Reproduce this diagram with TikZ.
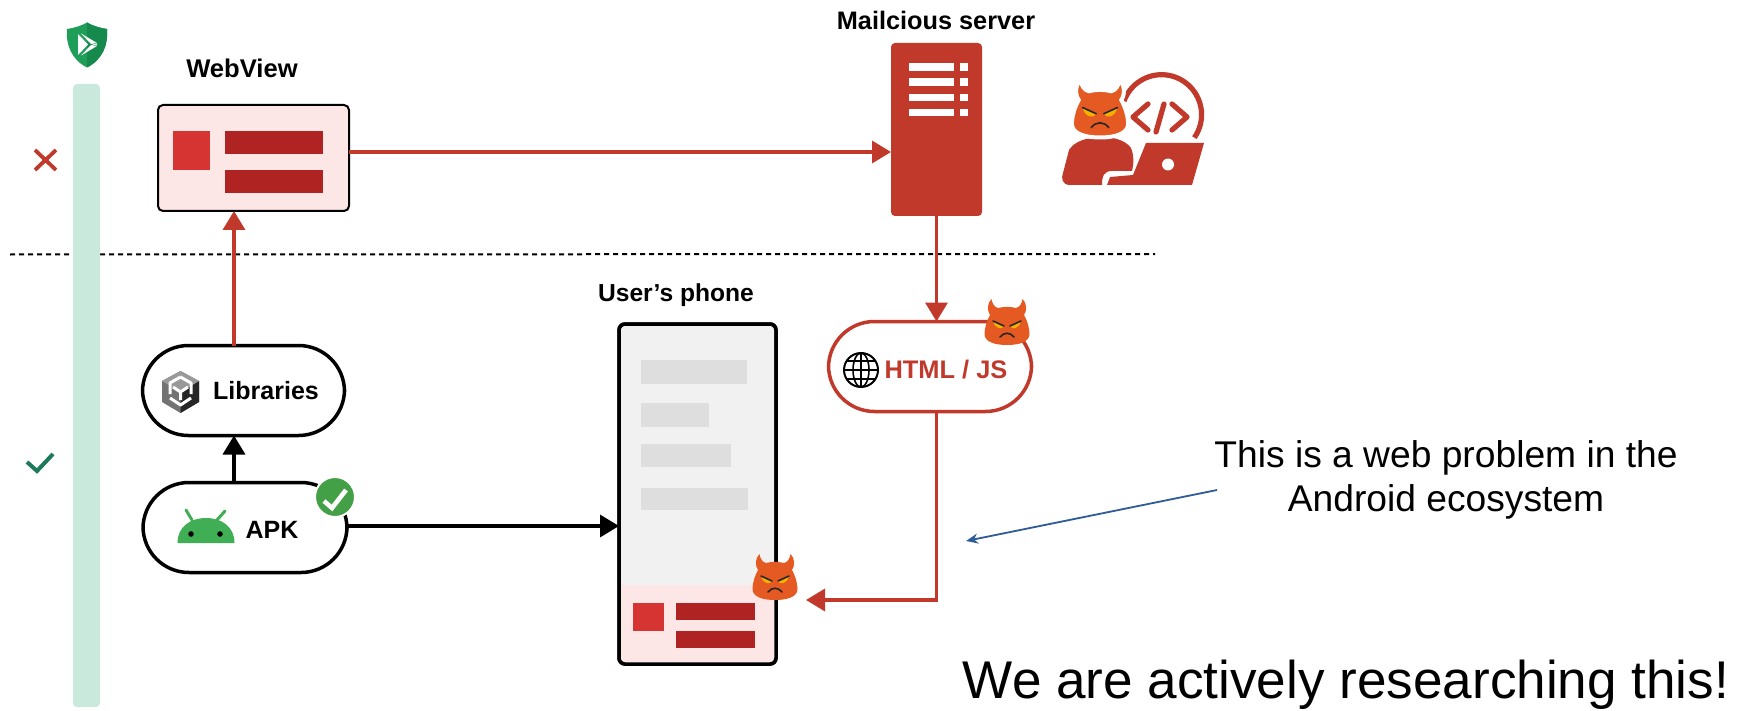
\documentclass[tikz,border=0pt]{standalone}
\usepackage{fontspec}
\setmainfont{Liberation Sans}
\usetikzlibrary{arrows.meta}
\definecolor{rd}{HTML}{C0392B}
\definecolor{dv}{HTML}{E55A22}
\definecolor{barred}{HTML}{B02323}
\definecolor{sqred}{HTML}{D63333}
\definecolor{pinkbg}{HTML}{FDE6E6}
\definecolor{mint}{HTML}{C9E9DD}
\definecolor{grayb}{HTML}{DEDEDE}
\definecolor{phonebg}{HTML}{F1F1F1}
\definecolor{shieldl}{HTML}{1E9E58}
\definecolor{shieldd}{HTML}{158A4C}
\definecolor{droid}{HTML}{3FAE55}
\definecolor{badge}{HTML}{43A047}
\definecolor{tick}{HTML}{1F7A5C}
\definecolor{eye}{HTML}{F5B000}
\definecolor{notearrow}{HTML}{2F5B96}
\tikzset{
  pill/.style={draw=black,line width=1.75pt,fill=white,rounded corners=23pt,minimum height=45pt,inner sep=0pt,outer sep=0pt},
  redline/.style={draw=rd,line width=1.75pt},
  redarrow/.style={redline,-{Triangle[length=9.5pt,width=11pt]}},
  blackarrow/.style={draw=black,line width=1.75pt,-{Triangle[length=9.5pt,width=11pt]}},
  lab/.style={font=\bfseries\fontsize{12.5}{15}\selectfont,inner sep=0pt},
  say/.style={font=\fontsize{18.6}{22}\selectfont,inner sep=0pt,align=center},
  devil/.pic={
    \path[pic actions,fill=dv] (-17,-8) .. controls (-20,-12) and (-20,-20) .. (-15.5,-24) .. controls (-15,-20) and (-13,-16) .. (-9,-15) .. controls (-3,-16.5) and (3,-16.5) .. (9,-15) .. controls (13,-16) and (15,-20) .. (15.5,-24) .. controls (20,-20) and (20,-12) .. (17,-8) .. controls (20,-3) and (22.5,5) .. (22.5,11) .. controls (22.5,19) and (12,22) .. (0,22) .. controls (-12,22) and (-22.5,19) .. (-22.5,11) .. controls (-22.5,5) and (-20,-3) .. (-17,-8) -- cycle;
    \fill[eye] (-14,-2) -- (-3,3) .. controls (-5,7) and (-12,6) .. (-14,-2) -- cycle;
    \fill[eye] (14,-2) -- (3,3) .. controls (5,7) and (12,6) .. (14,-2) -- cycle;
    \draw[black!85,line width=0.8pt,line cap=round] (-14,-2) -- (-3,3) (14,-2) -- (3,3);
    \draw[black!85,line width=0.8pt,line cap=round] (-7,14) .. controls (-3,9) and (3,9) .. (7,14);
  }
}
\begin{document}
\begin{tikzpicture}[x=0.5pt,y=-0.5pt]
\useasboundingbox[fill=white] (0,0) rectangle (1738,711);
% guide coordinates
\coordinate (axA) at (234,300);
\coordinate (axB) at (936.5,300);
\coordinate (ayA) at (500,526);
\coordinate (ayB) at (500,152);
\coordinate (phoneIn) at (806,600);
\coordinate (dotL) at (10,254.5);
\coordinate (dotR) at (1155,254);
\coordinate (noteFrom) at (1217,490);
\coordinate (noteTo) at (966,541);
\coordinate (cornerC) at (936.5,600);
% dotted
\draw[black,line width=1pt,dash pattern=on 2.5pt off 2pt] (dotL) -- (dotR);
% bar
\node[fill=mint,rounded corners=2pt,minimum width=13.5pt,minimum height=311.5pt,inner sep=0pt] (bar) at (86.5,395.5) {};
% shield
\fill[shieldl] (87,22.5) .. controls (93,26) and (100,28) .. (107,29) .. controls (108.5,45) and (102,60) .. (87,67.5) .. controls (72,60) and (65.5,45) .. (67,29) .. controls (74,28) and (81,26) .. (87,22.5) -- cycle;
\fill[shieldd] (87,22.5) .. controls (93,26) and (100,28) .. (107,29) .. controls (108.5,45) and (102,60) .. (87,67.5) -- cycle;
\fill[white] (78,34) -- (88,44.5) -- (78,55) -- cycle;
\fill[white] (81,33.5) -- (97,43) -- (91,44) -- cycle;
\fill[white] (81,55.5) -- (97,46) -- (91,45) -- cycle;
\fill[white] (92,44.5) -- (97,43.5) -- (97,45.5) -- cycle;
% marks
\draw[rd,line width=1.9pt] (35,150) -- (56,170) (56,150) -- (35,170);
\draw[tick,line width=2pt] (27,462) -- (37,471) -- (53,454);
% WebView
\node[draw=black,line width=1pt,fill=pinkbg,rounded corners=2.5pt,minimum width=95.5pt,minimum height=53pt,inner sep=0pt,outer sep=0pt] (web) at (253.5,158) {};
\fill[sqred] (173,131) rectangle (210,170);
\fill[barred] (225,131) rectangle (323,154);
\fill[barred] (225,170) rectangle (323,193);
\node[lab,font=\bfseries\fontsize{12.8}{15}\selectfont] (webl) at (242,68) {WebView};
% Server
\node[fill=rd,rounded corners=2pt,minimum width=45.5pt,minimum height=86.5pt,inner sep=0pt,outer sep=0pt] (srv) at (936.5,129.5) {};
\foreach \y in {63.5,78.5,94,109}{
  \fill[white] (909,\y) rectangle (954,\y+7.5);
  \fill[white] (960,\y) rectangle (968,\y+7.5);
}
\node[lab,font=\bfseries\fontsize{12.65}{15}\selectfont] (srvl) at (936,20) {Mailcious server};
% hacker
\fill[rd] (1069,150) .. controls (1078,134) and (1120,132) .. (1131,148) .. controls (1134,156) and (1134,162) .. (1132,171) -- (1112,171) .. controls (1104,171) and (1102,176) .. (1102,185) -- (1070,185) .. controls (1062,185) and (1061,178) .. (1063,173) -- cycle;
\fill[rd] (1146,143) -- (1204,143) -- (1192,185) -- (1107,185) -- (1110,177) -- (1133,175) -- cycle;
\fill[white] (1168,164.5) circle[radius=3pt];
\draw[rd,line width=2.6pt] (1124,101) arc[start angle=-160,end angle=35,radius=40];
\draw[rd,line width=2.6pt,line cap=round,line join=round] (1148,104) -- (1133,117) -- (1148,130) (1164,104) -- (1156,132) (1172,104) -- (1187,117) -- (1172,130);
\pic[scale=1.25,draw=white,line width=2pt] at (1100,110) {devil};
% Libraries
\node[pill,minimum width=101pt] (lib) at (243.5,390.5) {};
\node[lab] (libl) at (266,391) {Libraries};
\fill[black!55] (180.5,371) -- (199,381) -- (199,402) -- (180.5,413) -- (162,402) -- (162,381) -- cycle;
\fill[black!85] (180.5,392) -- (199,381) -- (199,402) -- (180.5,413) -- cycle;
\fill[black!40] (180.5,371) -- (199,381) -- (180.5,392) -- (162,381) -- cycle;
\draw[white,line width=1.5pt,line join=round] (180.5,377) -- (170,383) -- (170,394) (180.5,377) -- (191,383) -- (191,394) (170,398) -- (180.5,405) -- (191,398) (180.5,392) -- (180.5,400) (180.5,392) -- (173,387) (180.5,392) -- (188,387);
% APK
\node[pill,minimum width=102pt] (apk) at (245,527.5) {};
\node[lab] (apkl) at (272,530) {APK};
\draw[droid,line width=1.5pt,line cap=round] (192,520) -- (186,510) (217,520) -- (225,511);
\fill[droid] (177.5,543) .. controls (177.5,527) and (190,518) .. (206,518) .. controls (222,518) and (234.5,527) .. (234.5,543) -- cycle;
\fill[black] (191,534) circle[radius=1.4pt] (220,534) circle[radius=1.4pt];
\draw[white,line width=1pt,fill=badge] (335,497) circle[radius=10pt];
\draw[white,line width=2.3pt] (324,501) -- (332,508) -- (346,490);
% Phone
\node[draw=black,line width=1.75pt,fill=phonebg,rounded corners=3pt,minimum width=78.5pt,minimum height=170pt,inner sep=0pt,outer sep=0pt] (phone) at (697.5,494) {};
\begin{scope}
\clip[rounded corners=3pt] (619,324) rectangle (776,664);
\fill[pinkbg] (619,585) rectangle (776,664);
\end{scope}
\draw[black,line width=1.75pt,rounded corners=3pt] (619,324) rectangle (776,664);
\fill[grayb] (641,360) rectangle (747,384);
\fill[grayb] (641,403) rectangle (709,427);
\fill[grayb] (641,444) rectangle (731,467);
\fill[grayb] (641,488) rectangle (748,510);
\fill[sqred] (633,603) rectangle (664,631);
\fill[barred] (676,603) rectangle (755,620);
\fill[barred] (676,631) rectangle (755,648);
\node[lab,font=\bfseries\fontsize{12.3}{15}\selectfont] (phl) at (676,295) {User’s phone};
\pic at (775,578) {devil};
% HTML
\node[pill,draw=rd,minimum width=101.5pt] (html) at (930,366.5) {};
\draw[black,line width=1pt] (861,370) circle[radius=8.5pt];
\draw[black,line width=0.8pt] (861,370) ellipse[x radius=8,y radius=17];
\draw[black,line width=0.8pt] (844,370) -- (878,370) (846,361) -- (876,361) (846,379) -- (876,379) (861,353) -- (861,387);
\node[lab,text=rd,font=\bfseries\fontsize{12.7}{15}\selectfont] (htmll) at (946,370) {HTML / JS};
\pic at (1007,323) {devil};
% connectors
\draw[redarrow] (lib.north -| axA) -- (web.south -| axA);
\draw[blackarrow] (apk.north -| axA) -- (lib.south -| axA);
\draw[blackarrow] (apk.east |- ayA) -- (phone.west |- ayA);
\draw[redarrow] (web.east |- ayB) -- (srv.west |- ayB);
\draw[redarrow] (srv.south -| axB) -- (html.north -| axB);
\draw[redarrow] (html.south -| axB) -- (cornerC) -- (phoneIn);
% note
\node[say] (note) at (1446,479.5) {This is a web problem in the\\Android ecosystem};
\draw[draw=notearrow,line width=0.9pt,-{Stealth[length=6pt,width=5pt]}] (noteFrom) -- (noteTo);
\node[inner sep=0pt,font=\fontsize{26.55}{30}\selectfont] (big) at (1346,685) {We are actively researching this!};
\end{tikzpicture}
\end{document}
